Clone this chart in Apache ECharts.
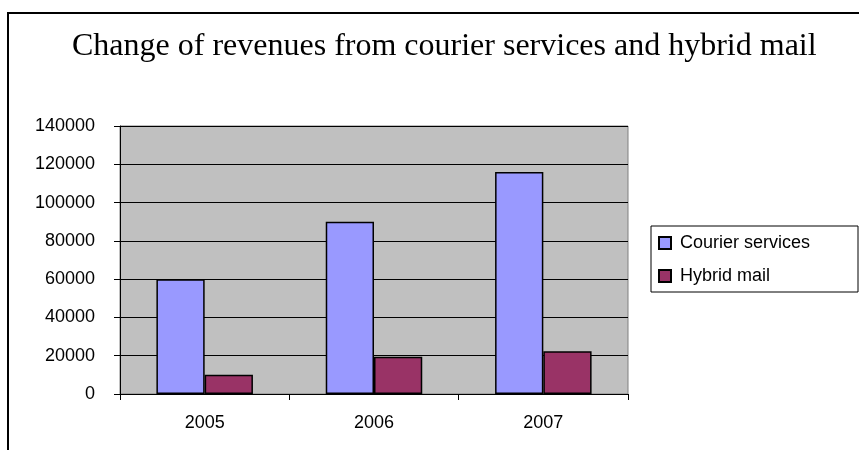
<!DOCTYPE html>
<html><head><meta charset="utf-8">
<script src="https://cdn.jsdelivr.net/npm/echarts@6/dist/echarts.min.js"></script>
<style>html,body{margin:0;padding:0;background:#fff;}#c{width:859px;height:450px;}</style>
</head><body><div id="c"></div>
<script>
var categories = ['2005', '2006', '2007'];
var courierServices = [60000, 90000, 116000];
var hybridMail = [10000, 19500, 22300];
var seriesNames = ['Courier services', 'Hybrid mail'];
var titleText = 'Change of revenues from courier services and hybrid mail';

var chart = echarts.init(document.getElementById('c'), null, {renderer: 'canvas'});
var sans = '"Liberation Sans", Arial, sans-serif';
chart.setOption({
  animation: false,
  backgroundColor: '#fff',
  title: {
    text: titleText, left: 72, top: 31, padding: 0,
    textStyle: {fontFamily: '"Liberation Serif", "Times New Roman", serif', fontSize: 32, fontWeight: 'normal', color: '#000'}
  },
  graphic: [
    {type: 'rect', shape: {x: 8, y: 13, width: 900, height: 500}, style: {fill: 'none', stroke: '#000', lineWidth: 2}, z: 100},
    {type: 'rect', shape: {x: 651, y: 226, width: 207, height: 66}, style: {fill: '#fff', stroke: '#000', lineWidth: 1}, z: -1}
  ],
  legend: {
    orient: 'vertical', left: 658, top: 234, padding: 0, itemGap: 15,
    itemWidth: 12, itemHeight: 12, icon: 'rect',
    textStyle: {fontFamily: sans, fontSize: 18, color: '#000', padding: [0, 0, 0, 4]},
    data: seriesNames
  },
  grid: {left: 120, right: 231, top: 126, bottom: 56, show: true, backgroundColor: '#c0c0c0', borderColor: '#808080', borderWidth: 1},
  xAxis: {
    type: 'category', data: categories,
    axisLine: {lineStyle: {color: '#000', width: 1}},
    axisTick: {show: true, length: 6, lineStyle: {color: '#000'}},
    axisLabel: {fontFamily: sans, fontSize: 18, color: '#000', margin: 20}
  },
  yAxis: {
    type: 'value', min: 0, max: 140000, interval: 20000,
    axisLine: {show: true, lineStyle: {color: '#000', width: 1}},
    axisTick: {show: true, length: 6, lineStyle: {color: '#000'}},
    axisLabel: {fontFamily: sans, fontSize: 18, color: '#000', margin: 25, formatter: function (v) { return String(v); }},
    splitLine: {show: true, lineStyle: {color: '#000', width: 1}}
  },
  series: [
    {name: seriesNames[0], type: 'bar', data: courierServices, barGap: '0%', barCategoryGap: '43%',
     itemStyle: {color: '#9999ff', borderColor: '#000', borderWidth: 1.5}},
    {name: seriesNames[1], type: 'bar', data: hybridMail, barGap: '0%', barCategoryGap: '43%',
     itemStyle: {color: '#993366', borderColor: '#000', borderWidth: 1.5}}
  ]
});
</script></body></html>
